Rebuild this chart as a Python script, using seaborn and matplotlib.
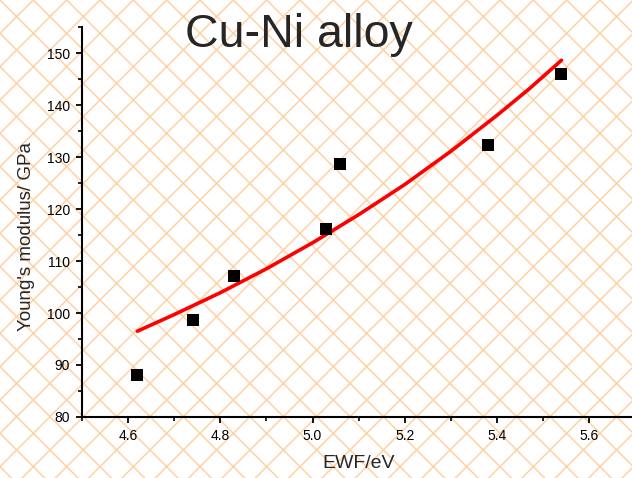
import matplotlib
matplotlib.use("Agg")
import matplotlib.pyplot as plt
import matplotlib.patches as mpatches
from matplotlib.ticker import MultipleLocator
import seaborn as sns
import pandas as pd

ewf = [4.62, 4.74, 4.83, 5.03, 5.06, 5.38, 5.54]
modulus = [88.0, 98.7, 107.2, 116.2, 128.7, 132.4, 145.9]

# Fitted curve
fit_x = [4.62, 4.70, 4.80, 4.90, 5.00, 5.10, 5.20, 5.30, 5.40, 5.47, 5.54]
fit_y = [96.5, 99.7, 103.9, 108.5, 113.5, 118.9, 124.7, 131.1, 138.0, 143.1, 148.6]

x_ticks = [4.6, 4.8, 5.0, 5.2, 5.4, 5.6]
y_ticks = [80, 90, 100, 110, 120, 130, 140, 150]

title = "Cu-Ni alloy"
x_label = "EWF/eV"
y_label = "Young's modulus/ GPa"

sns.set_style("ticks")
plt.rcParams['font.family'] = ['Liberation Sans', 'DejaVu Sans']
plt.rcParams['hatch.linewidth'] = 1.1
plt.rcParams['hatch.color'] = '#FFD2A6'

W, H = 632, 478
fig = plt.figure(figsize=(W / 100, H / 100), dpi=100)
fig.patch.set_facecolor('white')
bg = mpatches.Rectangle((0, 0), 1, 1, transform=fig.transFigure, facecolor='white',
                        edgecolor='#FFD2A6', hatch='x', linewidth=0, zorder=-10)
fig.patches.append(bg)

left_px, bottom_px = 82, 417
px_per_x = 461.0
px_per_y = 5.2
xlim = (4.5, 5.7)
ylim = (80, 155)
ax_w = (xlim[1] - xlim[0]) * px_per_x
ax_h = (ylim[1] - ylim[0]) * px_per_y
ax = fig.add_axes([left_px / W, 1 - bottom_px / H, ax_w / W, ax_h / H])
ax.patch.set_alpha(0)

df_pts = pd.DataFrame({"EWF": ewf, "E": modulus})
df_fit = pd.DataFrame({"EWF": fit_x, "E": fit_y})

sns.lineplot(data=df_fit, x="EWF", y="E", ax=ax, color='#FF0000', linewidth=2.6,
             sort=True, solid_capstyle='round', zorder=3)
sns.scatterplot(data=df_pts, x="EWF", y="E", ax=ax, marker='s', s=72, color='black',
                edgecolor='black', linewidth=0, zorder=4)

ax.set_xlim(*xlim)
ax.set_ylim(*ylim)
ax.set_xticks(x_ticks)
ax.set_yticks(y_ticks)
ax.set_xticklabels([f"{v:.1f}" for v in x_ticks])
ax.set_yticklabels([str(v) for v in y_ticks])
ax.xaxis.set_minor_locator(MultipleLocator(0.1))
ax.yaxis.set_minor_locator(MultipleLocator(5))

for s in ['top', 'right']:
    ax.spines[s].set_visible(False)
for s in ['left', 'bottom']:
    ax.spines[s].set_linewidth(1.5)
    ax.spines[s].set_color('black')

ax.tick_params(axis='both', which='major', direction='out', length=4.5, width=1.3,
               labelsize=10, pad=4, colors='black')
ax.tick_params(axis='both', which='minor', direction='out', length=3, width=1.2, colors='black')

ax.set_xlabel(x_label, fontsize=14, labelpad=9)
ax.set_ylabel(y_label, fontsize=13.5)
ax.yaxis.set_label_coords(-0.085, 0.464)

fig.text(185 / W, 1 - 47 / H, title, fontsize=33.5, ha='left', va='baseline')

fig.savefig("out.png", dpi=100)
